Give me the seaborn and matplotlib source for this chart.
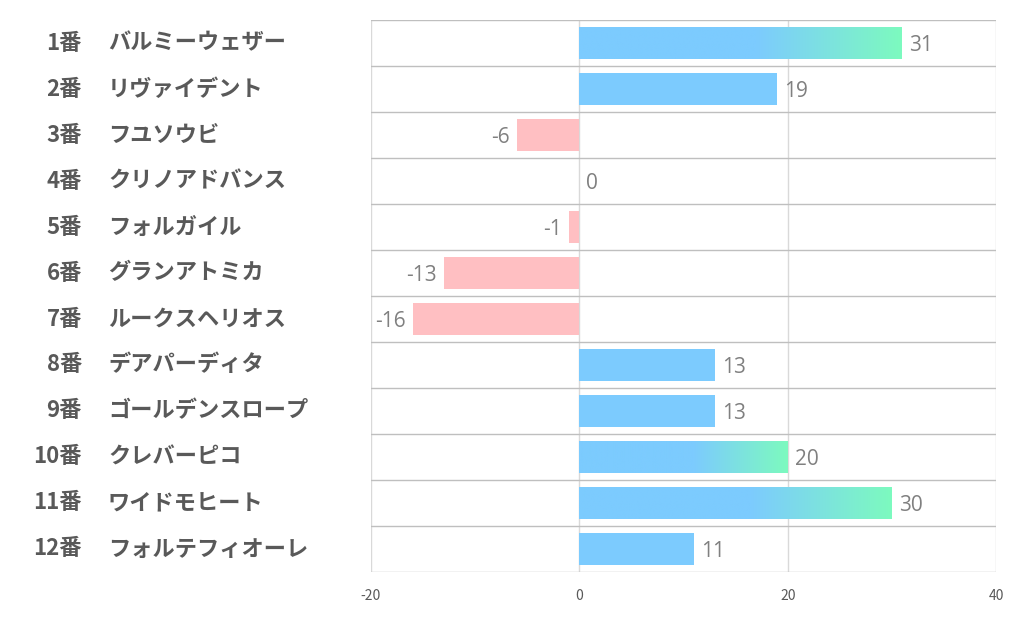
import numpy as np
import matplotlib
matplotlib.use("Agg")
import matplotlib.pyplot as plt
import seaborn as sns
from matplotlib.colors import LinearSegmentedColormap

# data
numbers = ["1番", "2番", "3番", "4番", "5番", "6番", "7番", "8番", "9番", "10番", "11番", "12番"]
names = ["バルミーウェザー", "リヴァイデント", "フユソウビ", "クリノアドバンス", "フォルガイル",
         "グランアトミカ", "ルークスヘリオス", "デアパーディタ", "ゴールデンスロープ", "クレバーピコ",
         "ワイドモヒート", "フォルテフィオーレ"]
values = [31, 19, -6, 0, -1, -13, -16, 13, 13, 20, 30, 11]
xticks = [-20, 0, 20, 40]

sns.set_theme(style="white")
plt.rcParams["font.family"] = ["Noto Sans CJK JP", "DejaVu Sans"]

BLUE = "#7ccbfe"
GREEN = "#7dfabf"
PINK = "#ffbfc2"

fig = plt.figure(figsize=(10.22, 6.26), dpi=100)
ax = fig.add_axes([0.363, 0.0863, 0.6116, 0.8817])

colors = [PINK if v < 0 else BLUE for v in values]
sns.barplot(x=values, y=names, hue=names, palette=colors, legend=False,
            orient="h", width=0.68, saturation=1, ax=ax, linewidth=0)

ax.set_xlim(-20, 40)
ax.set_ylim(len(values) - 0.5, -0.5)

# gradient on the big bars
cmap = LinearSegmentedColormap.from_list("bg", [(0, BLUE), (0.55, BLUE), (1, GREEN)])
grad = np.linspace(0, 1, 256).reshape(1, -1)
for patch, v in zip(ax.patches, values):
    if v >= 20:
        x0, y0 = patch.get_x(), patch.get_y()
        w, h = patch.get_width(), patch.get_height()
        im = ax.imshow(grad, cmap=cmap, aspect="auto",
                       extent=[x0, x0 + w, y0 + h, y0], zorder=3)
        im.set_clip_path(patch)

# grid
for xt in xticks:
    ax.axvline(xt, color="#d9d9d9", lw=1, zorder=0.5)
for i in range(len(values) + 1):
    ax.axhline(i - 0.5, color="#bfbfbf", lw=1, zorder=0.5)

for s in ax.spines.values():
    s.set_visible(False)

ax.set_xticks(xticks)
ax.set_xticklabels([str(t) for t in xticks])
ax.tick_params(axis="x", length=0, pad=12, labelsize=10, labelcolor="#595959")
ax.set_yticks([])
ax.set_ylabel("")
ax.set_xlabel("")

# value labels
for i, v in enumerate(values):
    off, ha = (-5, "right") if v < 0 else (5, "left")
    ax.annotate(str(v), (v, i + 0.05), xytext=(off, 0), textcoords="offset points",
                ha=ha, va="center", fontsize=15, color="#808080",
                family=["Open Sans", "DejaVu Sans"])

# row labels
tr = ax.get_yaxis_transform()
for i, (n, nm) in enumerate(zip(numbers, names)):
    ax.text(-0.4624, i, n, transform=tr, ha="right", va="center",
            fontsize=16, fontweight="bold", color="#595959")
    ax.text(-0.4208, i, nm, transform=tr, ha="left", va="center",
            fontsize=16, fontweight="bold", color="#595959")

fig.savefig("out.png", dpi=100)
